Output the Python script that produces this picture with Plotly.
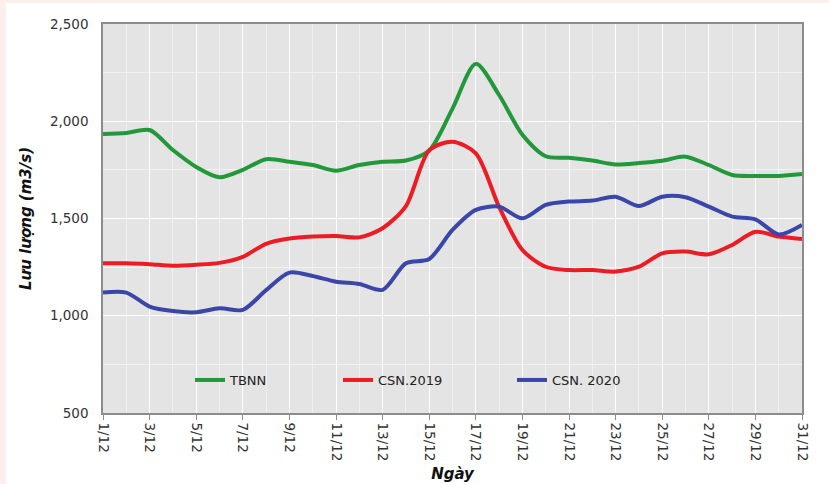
import plotly.graph_objects as go

# ---- data ----
days = ["1/12", "2/12", "3/12", "4/12", "5/12", "6/12", "7/12", "8/12", "9/12", "10/12",
        "11/12", "12/12", "13/12", "14/12", "15/12", "16/12", "17/12", "18/12", "19/12", "20/12",
        "21/12", "22/12", "23/12", "24/12", "25/12", "26/12", "27/12", "28/12", "29/12", "30/12",
        "31/12"]
tbnn = [1935, 1940, 1955, 1852, 1765, 1712, 1750, 1805, 1792, 1775,
        1745, 1775, 1792, 1798, 1850, 2065, 2295, 2135, 1930, 1820,
        1812, 1798, 1778, 1785, 1797, 1818, 1775, 1724, 1719, 1719, 1729]
csn2019 = [1270, 1270, 1265, 1257, 1262, 1272, 1303, 1370, 1397, 1407,
           1410, 1403, 1450, 1564, 1850, 1895, 1835, 1560, 1338, 1252,
           1235, 1235, 1227, 1252, 1321, 1330, 1316, 1364, 1432, 1407, 1395]
csn2020 = [1119, 1119, 1047, 1024, 1018, 1038, 1030, 1132, 1222, 1204,
           1175, 1163, 1133, 1270, 1292, 1441, 1544, 1561, 1501, 1570,
           1587, 1592, 1612, 1564, 1612, 1609, 1561, 1510, 1496, 1418, 1467]
series_names = ["TBNN", "CSN.2019", "CSN. 2020"]
series_colors = ["#22983a", "#ec1c24", "#3b47a8"]
y_ticks = [500, 1000, 1500, 2000, 2500]

x = list(range(1, len(days) + 1))
tick_x = x[::2]
tick_text = days[::2]

FONT = "DejaVu Sans"

fig = go.Figure()
for i, (name, vals, col) in enumerate(zip(series_names, [tbnn, csn2019, csn2020], series_colors)):
    fig.add_trace(go.Scatter(
        x=x, y=vals, name=name, mode="lines",
        line=dict(color=col, width=4, shape="spline", smoothing=0.8),
        legend="legend" if i == 0 else f"legend{i+1}",
        showlegend=True,
        hoverinfo="skip",
    ))

W, H = 829, 484
ml, mr, mt, mb = 103, 27, 24, 71
pw, ph = W - ml - mr, H - mt - mb

def px_x(p):
    return (p - ml) / pw

def px_y(p):
    return (H - mb - p) / ph

leg_common = dict(orientation="h", yanchor="middle", xanchor="left",
                  bgcolor="rgba(0,0,0,0)", font=dict(family=FONT, size=13, color="#222222"),
                  itemwidth=30)

fig.update_layout(
    width=W, height=H,
    margin=dict(l=ml, r=mr, t=mt, b=mb, autoexpand=False),
    paper_bgcolor="white",
    plot_bgcolor="#e4e4e4",
    showlegend=True,
    font=dict(family=FONT, size=13, color="#333333"),
    legend=dict(x=px_x(190), y=px_y(380), **leg_common),
    legend2=dict(x=px_x(338), y=px_y(380), **leg_common),
    legend3=dict(x=px_x(512), y=px_y(380), **leg_common),
    shapes=[
        dict(type="rect", xref="paper", yref="paper",
             x0=px_x(0), x1=px_x(6), y0=px_y(H), y1=px_y(0),
             fillcolor="#fcf0ec", line=dict(width=0), layer="below"),
        dict(type="rect", xref="paper", yref="paper",
             x0=px_x(0), x1=px_x(W), y0=px_y(3), y1=px_y(0),
             fillcolor="#fcf0ec", line=dict(width=0), layer="below"),
    ],
)

fig.update_xaxes(
    range=[1, 31], automargin=False,
    tickmode="array", tickvals=tick_x, ticktext=tick_text,
    tickangle=90,
    ticks="outside", ticklen=5, tickcolor="#8c8c8c",
    showgrid=True, gridcolor="#ffffff", gridwidth=1,
    minor=dict(dtick=1, tick0=1, showgrid=True, gridcolor="#f0f0f0", gridwidth=1),
    showline=True, linecolor="#8c8c8c", linewidth=1.5, mirror=True,
    zeroline=False,
    tickfont=dict(family=FONT, size=13.5, color="#333333"),
    title=dict(text="Ngày", standoff=8,
               font=dict(family=FONT, size=15, color="#111111", weight="bold", style="italic")),
)
fig.update_yaxes(
    range=[500, 2500], automargin=False,
    tickmode="array", tickvals=y_ticks, ticktext=[f"{v:,}" for v in y_ticks],
    ticks="", ticklabelstandoff=10,
    showgrid=True, gridcolor="#ffffff", gridwidth=1,
    minor=dict(dtick=250, tick0=500, showgrid=True, gridcolor="#f2f2f2", gridwidth=1),
    showline=True, linecolor="#8c8c8c", linewidth=1.5, mirror=True,
    zeroline=False,
    tickfont=dict(family=FONT, size=13.5, color="#333333"),
    title=dict(text="Lưu lượng (m3/s)", standoff=15,
               font=dict(family=FONT, size=15, color="#111111", weight="bold", style="italic")),
)

fig.write_html("out.html", config={"displayModeBar": False},
               post_script="document.body.style.margin='0';")
